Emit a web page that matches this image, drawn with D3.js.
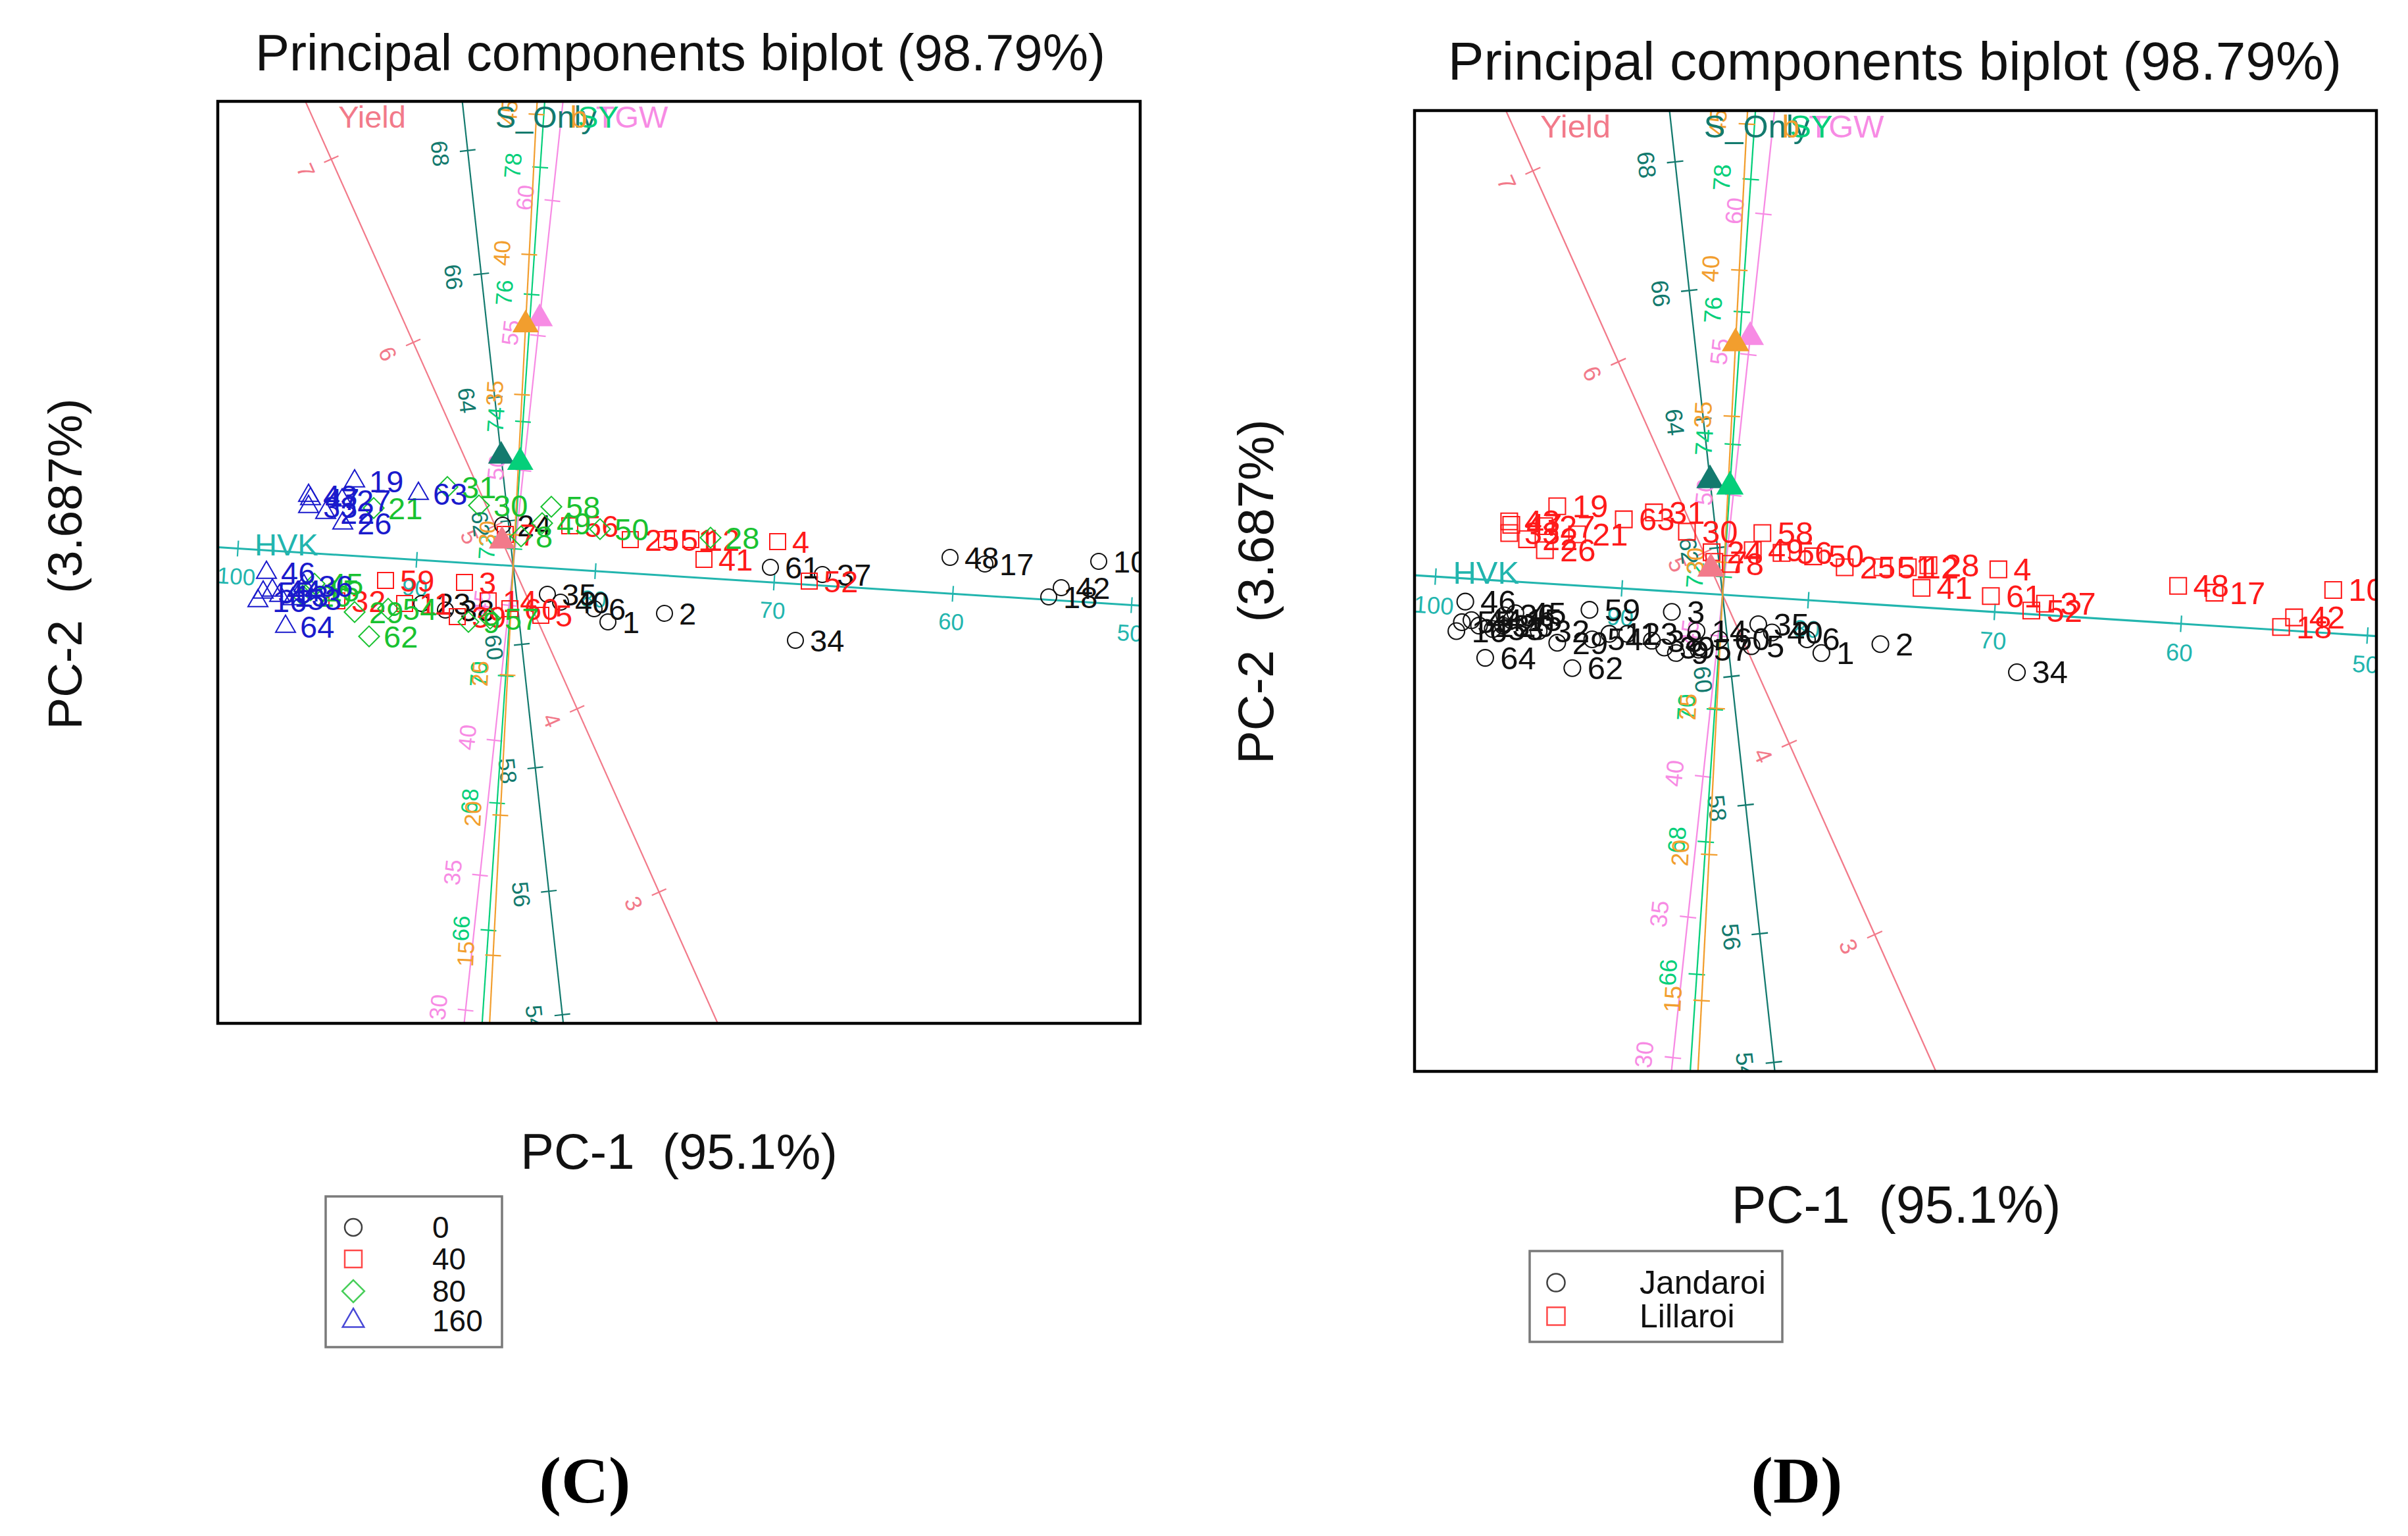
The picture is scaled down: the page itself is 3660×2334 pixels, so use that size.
<!DOCTYPE html>
<html>
<head>
<meta charset="utf-8">
<script src="https://cdn.jsdelivr.net/npm/d3@7"></script>
<style>
body { margin: 0; background: #fff; }
text { font-family: "Liberation Sans", Arial, Helvetica, sans-serif; }
</style>
</head>
<body>
<svg id="chart" width="3660" height="2334"></svg>
<script>
const svg = d3.select('#chart')

// genotype x treatment scores (PC1, PC2)
const genoIds = [24, 61, 37, 48, 17, 10, 42, 18,
                 56, 25, 51, 12, 4, 41, 52, 7,
                 21, 31, 30, 58, 49, 50, 28, 8,
                 43, 47, 33, 22, 27, 19, 63, 26,
                 34, 2, 1, 6, 35, 40, 23, 38,
                 59, 3, 32, 39, 5, 14, 60, 11,
                 62, 29, 45, 15, 9, 54, 57, 20,
                 64, 46, 44, 16, 53, 13, 55, 36]
const pc1 = [-0.16, 3.91, 4.70, 6.64, 7.17, 8.90, 8.33, 8.14,
             0.86, 1.78, 2.33, 2.70, 4.02, 2.90, 4.50, -0.12,
             -2.12, -1.00, -0.52, 0.58, 0.44, 1.32, 3.00, 0.12,
             -3.11, -3.08, -3.11, -2.85, -2.60, -2.41, -1.44, -2.59,
             4.29, 2.30, 1.44, 1.23, 0.52, 0.72, -1.39, -1.03,
             -1.94, -0.74, -2.68, -0.85, 0.42, -0.38, -0.05, -1.65,
             -2.19, -2.41, -3.02, -3.08, -0.68, -1.90, -0.35, -3.20,
             -3.46, -3.75, -3.66, -3.88, -3.35, -3.55, -3.80, -3.18]
const pc2 = [0.62, -0.02, -0.13, 0.13, 0.03, 0.07, -0.33, -0.47,
             0.61, 0.40, 0.40, 0.40, 0.37, 0.10, -0.23, 0.48,
             0.88, 1.20, 0.92, 0.90, 0.65, 0.56, 0.43, 0.45,
             1.07, 1.02, 0.90, 0.81, 1.00, 1.29, 1.10, 0.65,
             -1.13, -0.72, -0.85, -0.65, -0.43, -0.55, -0.57, -0.67,
             -0.22, -0.25, -0.53, -0.77, -0.75, -0.53, -0.65, -0.57,
             -1.07, -0.70, -0.27, -0.37, -0.85, -0.65, -0.80, -0.45,
             -0.92, -0.10, -0.37, -0.53, -0.50, -0.45, -0.40, -0.30]
const nRate = [0, 0, 0, 0, 0, 0, 0, 0,
               40, 40, 40, 40, 40, 40, 40, 40,
               80, 80, 80, 80, 80, 80, 80, 80,
               160, 160, 160, 160, 160, 160, 160, 160,
               0, 0, 0, 0, 0, 0, 0, 0,
               40, 40, 40, 40, 40, 40, 40, 40,
               80, 80, 80, 80, 80, 80, 80, 80,
               160, 160, 160, 160, 160, 160, 160, 160]
const siteOf = ['Lillaroi', 'Lillaroi', 'Lillaroi', 'Lillaroi', 'Lillaroi', 'Lillaroi', 'Lillaroi', 'Lillaroi',
                'Lillaroi', 'Lillaroi', 'Lillaroi', 'Lillaroi', 'Lillaroi', 'Lillaroi', 'Lillaroi', 'Lillaroi',
                'Lillaroi', 'Lillaroi', 'Lillaroi', 'Lillaroi', 'Lillaroi', 'Lillaroi', 'Lillaroi', 'Lillaroi',
                'Lillaroi', 'Lillaroi', 'Lillaroi', 'Lillaroi', 'Lillaroi', 'Lillaroi', 'Lillaroi', 'Lillaroi',
                'Jandaroi', 'Jandaroi', 'Jandaroi', 'Jandaroi', 'Jandaroi', 'Jandaroi', 'Jandaroi', 'Jandaroi',
                'Jandaroi', 'Jandaroi', 'Jandaroi', 'Jandaroi', 'Jandaroi', 'Jandaroi', 'Jandaroi', 'Jandaroi',
                'Jandaroi', 'Jandaroi', 'Jandaroi', 'Jandaroi', 'Jandaroi', 'Jandaroi', 'Jandaroi', 'Jandaroi',
                'Jandaroi', 'Jandaroi', 'Jandaroi', 'Jandaroi', 'Jandaroi', 'Jandaroi', 'Jandaroi', 'Jandaroi']

// trait vectors and their calibrated axes
const varNames = ['HVK', 'Yield', 'S_Only', 'TGW', 'SY', 'b']
const varColors = ['#22b5ae', '#f27a8a', '#137a6e', '#f78be4', '#05cf7a', '#f29e2e']
const loadPC1 = [-0.30, -0.17, -0.183, 0.403, 0.107, 0.189]
const loadPC2 = [0.019, 0.38, 1.67, 3.758, 1.576, 3.665]
const showMarker = [false, true, true, true, true, true]
const calStep = [0.2722, 3.05, 0.9436, 0.4124, 0.9682, 0.4266]
const calCentre = [84.6, 4.78, 61.27, 46.46, 71.73, 28.89]
const calTicks = [
	[50, 60, 70, 80, 90, 100],
	[3, 4, 5, 6, 7],
	[54, 56, 58, 60, 62, 64, 66, 68],
	[30, 35, 40, 45, 50, 55, 60],
	[66, 68, 70, 72, 74, 76, 78],
	[15, 20, 25, 30, 35, 40, 45]
]

const nLevels = [0, 40, 80, 160]
const sites = ['Jandaroi', 'Lillaroi']

const xDomain = [-4.49, 9.53]
const yDomain = [-6.95, 7.06]
const chartTitle = 'Principal components biplot (98.79%)'
const xTitle = 'PC-1  (95.1%)'
const yTitle = 'PC-2  (3.687%)'

const nStyle = { 0: ['circle', '#111111'], 40: ['square', '#ff1a1a'], 80: ['diamond', '#19c230'], 160: ['triangle', '#1a1acc'] }
const siteStyle = { Jandaroi: ['circle', '#111111'], Lillaroi: ['square', '#ff1a1a'] }

const shapePath = (shape, s) => {
	if (shape === 'circle') return `M${s},0A${s},${s} 0 1,1 ${-s},0A${s},${s} 0 1,1 ${s},0Z`
	if (shape === 'square') return `M${-s},${-s}H${s}V${s}H${-s}Z`
	if (shape === 'diamond') { const d = s * 1.3; return `M0,${-d}L${d},0L0,${d}L${-d},0Z` }
	const L = s * 2.5
	return `M0,${-L * 0.577}L${L / 2},${L * 0.289}L${-L / 2},${L * 0.289}Z`
}

svg.append('rect').attr('width', 3660).attr('height', 2334).attr('fill', '#fff')

const panels = [
	{ tag: '(C)', box: [331, 154, 1733, 1555], by: 'n', title: [1034, 107, 78], xlab: [1032, 1776, 76], ylab: [124, 857, 73],
	  legend: { box: [495, 1818, 763, 2047], symX: 537, rows: [1865, 1913, 1962, 2007], textX: 657, font: 46 }, tagPos: [889, 2283] },
	{ tag: '(D)', box: [2150, 168, 3612, 1628], by: 'site', title: [2880, 121, 82], xlab: [2882, 1858, 79], ylab: [1935, 899, 76],
	  legend: { box: [2325, 1901, 2709, 2039], symX: 2365, rows: [1949, 2000], textX: 2492, font: 50 }, tagPos: [2731, 2283] }
]

panels.forEach((p, pi) => {
	const [bx0, by0, bx1, by1] = p.box
	const k = (bx1 - bx0) / 1402
	const x = d3.scaleLinear().domain(xDomain).range([bx0, bx1])
	const y = d3.scaleLinear().domain(yDomain).range([by1, by0])
	const ox = x(0), oy = y(0)

	const clipId = 'clip' + pi
	svg.append('clipPath').attr('id', clipId)
		.append('rect').attr('x', bx0).attr('y', by0).attr('width', bx1 - bx0).attr('height', by1 - by0)
	const g = svg.append('g').attr('clip-path', `url(#${clipId})`)

	const nameAt = []

	// calibrated trait axes
	varNames.forEach((name, vi) => {
		const len = Math.hypot(loadPC1[vi], loadPC2[vi])
		const ux = loadPC1[vi] / len, uy = loadPC2[vi] / len
		const sdx = x(ux) - ox, sdy = y(uy) - oy
		const sl = Math.hypot(sdx, sdy)
		const dx = sdx / sl, dy = sdy / sl
		let nx = -dy, ny = dx
		if (-nx + ny < 0) { nx = -nx; ny = -ny }
		let ang = Math.atan2(dy, dx) * 180 / Math.PI
		if (ang > 90) ang -= 180
		if (ang <= -90) ang += 180
		const col = varColors[vi]

		g.append('line')
			.attr('x1', ox - dx * 4000).attr('y1', oy - dy * 4000)
			.attr('x2', ox + dx * 4000).attr('y2', oy + dy * 4000)
			.attr('stroke', col).attr('stroke-width', name === 'HVK' ? 3 * k : 2.2 * k)

		calTicks[vi].forEach(v => {
			const d = (v - calCentre[vi]) * calStep[vi]
			const tx = x(ux * d), ty = y(uy * d)
			g.append('line')
				.attr('x1', tx - nx * 12 * k).attr('y1', ty - ny * 12 * k)
				.attr('x2', tx + nx * 12 * k).attr('y2', ty + ny * 12 * k)
				.attr('stroke', col).attr('stroke-width', 2.2 * k)
			const lx = tx + nx * 42 * k, ly = ty + ny * 42 * k
			g.append('text')
				.attr('transform', `translate(${lx},${ly}) rotate(${ang})`)
				.attr('text-anchor', 'middle').attr('dominant-baseline', 'central')
				.attr('font-size', 35 * k).attr('fill', col)
				.text(v)
		})

		// where the axis leaves the box, on the side of increasing values
		const ts = []
		if (dx < 0) ts.push([(bx0 - ox) / dx, 'left'])
		if (dx > 0) ts.push([(bx1 - ox) / dx, 'right'])
		if (dy < 0) ts.push([(by0 - oy) / dy, 'top'])
		if (dy > 0) ts.push([(by1 - oy) / dy, 'bottom'])
		ts.sort((a, b) => a[0] - b[0])
		const [t, side] = ts[0]
		const ex = ox + dx * t, ey = oy + dy * t
		const off = side === 'top' ? [50, 23] : [56, -4]
		nameAt[vi] = [ex + off[0] * k, ey + off[1] * k]
	})

	// trait name labels
	varNames.forEach((name, vi) => {
		g.append('text')
			.attr('x', nameAt[vi][0]).attr('y', nameAt[vi][1])
			.attr('dominant-baseline', 'central')
			.attr('font-size', 47 * k).attr('fill', varColors[vi])
			.text(name)
	})

	// genotype points and labels
	genoIds.forEach((id, i) => {
		const st = p.by === 'n' ? nStyle[nRate[i]] : siteStyle[siteOf[i]]
		const px = x(pc1[i]), py = y(pc2[i])
		g.append('path')
			.attr('d', shapePath(st[0], 12 * k))
			.attr('transform', `translate(${px},${py})`)
			.attr('fill', 'none').attr('stroke', st[1]).attr('stroke-width', 2 * k)
		g.append('text')
			.attr('x', px + 22 * k).attr('y', py)
			.attr('dominant-baseline', 'central')
			.attr('font-size', 47 * k).attr('fill', st[1])
			.text(id)
	})

	// vector end markers
	varNames.forEach((name, vi) => {
		if (!showMarker[vi]) return
		g.append('path')
			.attr('d', shapePath('triangle', 16 * k))
			.attr('transform', `translate(${x(loadPC1[vi])},${y(loadPC2[vi])})`)
			.attr('fill', varColors[vi])
	})

	svg.append('rect')
		.attr('x', bx0).attr('y', by0).attr('width', bx1 - bx0).attr('height', by1 - by0)
		.attr('fill', 'none').attr('stroke', '#000').attr('stroke-width', 4.5)

	svg.append('text')
		.attr('x', p.title[0]).attr('y', p.title[1])
		.attr('text-anchor', 'middle').attr('font-size', p.title[2]).attr('fill', '#111')
		.text(chartTitle)

	svg.append('text')
		.attr('x', p.xlab[0]).attr('y', p.xlab[1])
		.attr('text-anchor', 'middle').attr('font-size', p.xlab[2]).attr('fill', '#111')
		.style('white-space', 'pre')
		.text(xTitle)

	svg.append('text')
		.attr('transform', `translate(${p.ylab[0]},${p.ylab[1]}) rotate(-90)`)
		.attr('text-anchor', 'middle').attr('font-size', p.ylab[2]).attr('fill', '#111')
		.style('white-space', 'pre')
		.text(yTitle)

	// legend
	const L = p.legend
	svg.append('rect')
		.attr('x', L.box[0]).attr('y', L.box[1])
		.attr('width', L.box[2] - L.box[0]).attr('height', L.box[3] - L.box[1])
		.attr('fill', '#fff').attr('stroke', '#7a7a7a').attr('stroke-width', 3.5)
	const items = p.by === 'n' ? nLevels.map(n => [String(n), nStyle[n]]) : sites.map(s => [s, siteStyle[s]])
	items.forEach((it, j) => {
		svg.append('path')
			.attr('d', shapePath(it[1][0], 13 * k))
			.attr('transform', `translate(${L.symX},${L.rows[j]})`)
			.attr('fill', 'none').attr('stroke', it[1][1]).attr('stroke-width', 2.5).attr('stroke-opacity', 0.8)
		svg.append('text')
			.attr('x', L.textX).attr('y', L.rows[j])
			.attr('dominant-baseline', 'central')
			.attr('font-size', L.font).attr('fill', '#111')
			.text(it[0])
	})

	svg.append('text')
		.attr('x', p.tagPos[0]).attr('y', p.tagPos[1])
		.attr('text-anchor', 'middle')
		.style('font-family', '"Liberation Serif", "Times New Roman", serif')
		.attr('font-weight', 'bold').attr('font-size', 100).attr('fill', '#000')
		.text(p.tag)
})
</script>
</body>
</html>
